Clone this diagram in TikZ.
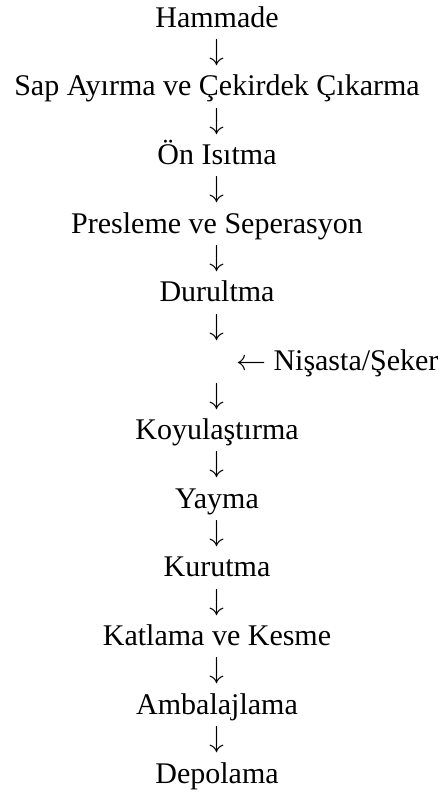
\documentclass[tikz,border=0pt]{standalone}
\usepackage{fontspec}
\setmainfont{Liberation Serif}
\newfontfamily\arrowfont{latinmodern-math.otf}
\begin{document}
\begin{tikzpicture}[x=1pt,y=-1pt,
  every node/.style={inner sep=0pt,outer sep=0pt,font=\fontsize{30pt}{34pt}\selectfont},
  stage/.style={anchor=base},
  flowarrow/.style={anchor=base,font=\fontsize{30pt}{34pt}\arrowfont},
  sidein/.style={anchor=base west}]
\useasboundingbox (0,0) rectangle (440,798);
\def\cx{217}
\node[stage] (s1) at (\cx,27.0) {Hammade};
\node[flowarrow] (a1) at (\cx,60.4) {↓};
\node[stage] (s2) at (\cx,95.7) {Sap Ayırma ve Çekirdek Çıkarma};
\node[flowarrow] (a2) at (\cx,129.1) {↓};
\node[stage] (s3) at (\cx,164.5) {Ön Isıtma};
\node[flowarrow] (a3) at (\cx,197.8) {↓};
\node[stage] (s4) at (\cx,233.2) {Presleme ve Seperasyon};
\node[flowarrow] (a4) at (\cx,266.5) {↓};
\node[stage] (s5) at (\cx,301.9) {Durultma};
\node[flowarrow] (a5) at (\cx,335.3) {↓};
\node[sidein] (add) at (236,370.6) {{\arrowfont ←} Nişasta/Şeker};
\node[flowarrow] (a6) at (\cx,404.0) {↓};
\node[stage] (s6) at (\cx,439.3) {Koyulaştırma};
\node[flowarrow] (a7) at (\cx,472.7) {↓};
\node[stage] (s7) at (\cx,508.1) {Yayma};
\node[flowarrow] (a8) at (\cx,541.4) {↓};
\node[stage] (s8) at (\cx,576.8) {Kurutma};
\node[flowarrow] (a9) at (\cx,610.2) {↓};
\node[stage] (s9) at (\cx,645.5) {Katlama ve Kesme};
\node[flowarrow] (a10) at (\cx,678.9) {↓};
\node[stage] (s10) at (\cx,714.2) {Ambalajlama};
\node[flowarrow] (a11) at (\cx,747.6) {↓};
\node[stage] (s11) at (\cx,783.0) {Depolama};
\end{tikzpicture}
\end{document}
